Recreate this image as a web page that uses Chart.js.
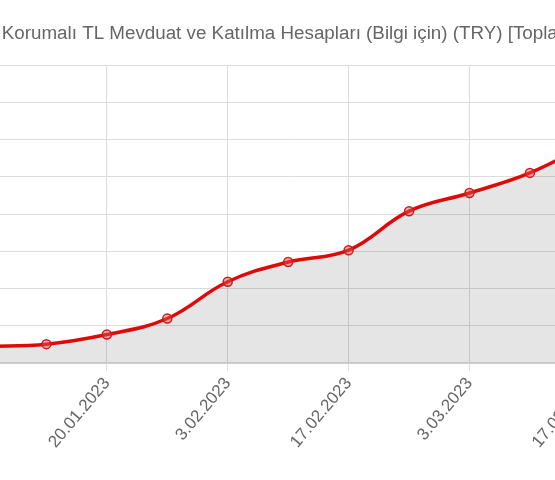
<!DOCTYPE html>
<html>
<head>
<meta charset="utf-8">
<script src="https://cdn.jsdelivr.net/npm/chart.js@4"></script>
<style>
    html, body { margin: 0; padding: 0; background: #fff; overflow: hidden; }
    body { width: 555px; height: 480px; position: relative; }
    /* the chart is wider than the page, we only see the middle of it */
    #wrap { position: absolute; left: -63px; top: 0; width: 672px; height: 480px; }
</style>
</head>
<body>
<div id="wrap"><canvas id="kkmChart"></canvas></div>
<script>
// weekly dates
const dates = ['6.01.2023', '13.01.2023', '20.01.2023', '27.01.2023', '3.02.2023', '10.02.2023',
    '17.02.2023', '24.02.2023', '3.03.2023', '10.03.2023', '17.03.2023'];
// values (billion TRY)
const totals = [1444, 1450, 1476, 1519, 1618, 1671, 1703, 1808, 1857, 1911, 1992];

const yMin = 1400;
const yMax = 2200;
const yStep = 100;

const fontFamily = 'Liberation Sans, Arial, sans-serif';

const ctx = document.getElementById('kkmChart').getContext('2d');
new Chart(ctx, {
    type: 'line',
    data: {
        labels: dates,
        datasets: [{
            label: 'Toplam',
            data: totals,
            borderColor: 'rgb(222, 10, 10)',
            backgroundColor: 'rgba(0, 0, 0, 0.1)',
            borderWidth: 3.5,
            fill: true,
            tension: 0.4,
            pointRadius: 4.5,
            pointBorderWidth: 1.5,
            pointBorderColor: 'rgb(200, 30, 30)',
            pointBackgroundColor: 'rgba(230, 80, 80, 0.45)'
        }]
    },
    options: {
        responsive: true,
        maintainAspectRatio: false,
        animation: false,
        layout: {
            padding: { left: 10, right: 10, top: 0, bottom: 25 }
        },
        plugins: {
            legend: { display: false },
            tooltip: { enabled: false },
            title: {
                display: true,
                text: 'Kur Korumalı TL Mevduat ve Katılma Hesapları (Bilgi için) (TRY) [Toplam]',
                color: '#666',
                font: { family: fontFamily, size: 18.8, weight: 'normal' },
                padding: { top: 23, bottom: 20 }
            }
        },
        scales: {
            x: {
                offset: false,
                grid: { color: '#dcdcdc', tickLength: 8 },
                border: { color: '#cfcfcf', width: 2 },
                ticks: {
                    autoSkip: false,
                    minRotation: 50,
                    maxRotation: 50,
                    color: '#666',
                    font: { family: fontFamily, size: 17 },
                    // only every second week gets a label and a grid line
                    callback: function(value, index) {
                        if (index === 0 || index % 2 === 1) return null;
                        return this.getLabelForValue(value);
                    }
                }
            },
            y: {
                min: yMin,
                max: yMax,
                afterFit: function(scale) { scale.width = 39; },
                ticks: {
                    stepSize: yStep,
                    color: '#666',
                    font: { family: fontFamily, size: 12 }
                },
                grid: { color: '#dcdcdc', drawTicks: false },
                border: { display: false }
            }
        }
    }
});
</script>
</body>
</html>
